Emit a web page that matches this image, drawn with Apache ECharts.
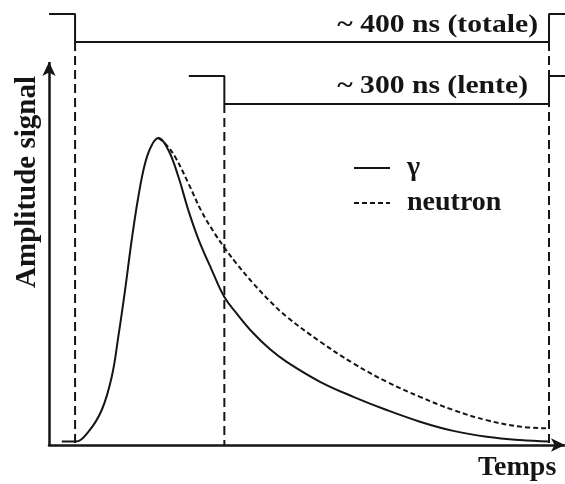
<!DOCTYPE html>
<html>
<head>
<meta charset="utf-8">
<script src="https://cdn.jsdelivr.net/npm/echarts@6/dist/echarts.min.js"></script>
<style>
html,body{margin:0;padding:0;background:#fff;}
#chart{width:565px;height:484px;}
</style>
</head>
<body>
<div id="chart"></div>
<script>
// Time axis in ns (gate start = 0), amplitude normalised to peak = 1
var timeRange = [-22, 413.5];
var ampRange = [0, 1.45];
var yArrowTop = 1.248;

// gamma pulse (solid)
var gammaT = [-11.2, 0, 11.2, 22.5, 31.0, 36.5, 42.2, 47.8, 53.4, 59.1, 64.7, 70.3, 78.7, 87.2, 95.6, 104.0, 115.4, 126.0, 136.5, 150.5, 164.6, 178.6, 206.8, 234.9, 263.0, 291.1, 319.2, 347.4, 375.5, 400];
var gammaA = [0.011, 0.011, 0.043, 0.114, 0.223, 0.353, 0.505, 0.668, 0.809, 0.918, 0.977, 1.0, 0.961, 0.874, 0.765, 0.672, 0.570, 0.482, 0.428, 0.364, 0.312, 0.271, 0.206, 0.157, 0.114, 0.076, 0.046, 0.027, 0.016, 0.011];

// neutron pulse (dashed), starts at the common peak
var neutronT = [70.3, 75.9, 84.4, 95.6, 106.9, 118.1, 126.6, 136.5, 150.5, 164.6, 178.6, 206.8, 234.9, 263.0, 291.1, 319.2, 347.4, 375.5, 400];
var neutronA = [1.0, 0.983, 0.939, 0.853, 0.760, 0.688, 0.640, 0.590, 0.526, 0.468, 0.418, 0.337, 0.266, 0.206, 0.157, 0.114, 0.081, 0.060, 0.054];

// integration gates
var totalGateT = [-22, 0, 0, 400, 400, 413.5];
var totalGateA = [1.404, 1.404, 1.313, 1.313, 1.404, 1.404];
var slowGateT = [96, 126, 126, 400, 400, 413.5];
var slowGateA = [1.202, 1.202, 1.111, 1.111, 1.202, 1.202];
var gateStarts = [0, 126, 400];
var gateTops = [1.313, 1.111, 1.313];

var labels = {
  total: '~ 400 ns (totale)',
  slow: '~ 300 ns (lente)',
  xName: 'Temps',
  yName: 'Amplitude signal',
  gamma: '\u03b3',
  neutron: 'neutron'
};

function pairs(xs, ys) { return xs.map(function (x, i) { return [x, ys[i]]; }); }

var FONT = 'Liberation Serif';
var INK = '#151515';

var series = [];
series.push({
  name: labels.gamma, type: 'line', data: pairs(gammaT, gammaA), smooth: 0.4,
  symbol: 'none', lineStyle: { color: INK, width: 2, type: 'solid' }, itemStyle: { color: INK }, z: 5,
  markLine: {
    silent: true, symbol: ['none', 'arrow'], symbolSize: [10, 14], label: { show: false },
    lineStyle: { color: INK, width: 2.5, type: 'solid' },
    data: [[{ coord: [timeRange[0], 0] }, { coord: [timeRange[0], yArrowTop] }]]
  }
});
series.push({
  name: labels.neutron, type: 'line', data: pairs(neutronT, neutronA), smooth: 0.4,
  symbol: 'none', lineStyle: { color: INK, width: 2, type: [5, 3] }, itemStyle: { color: INK }, z: 5
});
series.push({
  type: 'line', data: pairs(totalGateT, totalGateA), symbol: 'none',
  lineStyle: { color: INK, width: 2 }, z: 3
});
series.push({
  type: 'line', data: pairs(slowGateT, slowGateA), symbol: 'none',
  lineStyle: { color: INK, width: 2 }, z: 3
});
gateStarts.forEach(function (t, i) {
  series.push({
    type: 'line', data: [[t, gateTops[i]], [t, 0]], symbol: 'none',
    lineStyle: { color: INK, width: 2, type: [9, 5] }, z: 2
  });
});

var chart = echarts.init(document.getElementById('chart'), null, { renderer: 'canvas' });
chart.setOption({
  animation: false,
  backgroundColor: '#fff',
  grid: { left: 49, right: 0, top: 0, bottom: 39, containLabel: false },
  xAxis: {
    type: 'value', min: timeRange[0], max: timeRange[1],
    axisLine: { show: true, onZero: false, symbol: ['none', 'arrow'], symbolSize: [10, 14], lineStyle: { color: INK, width: 2.5 } },
    axisTick: { show: false }, axisLabel: { show: false }, splitLine: { show: false }
  },
  yAxis: {
    type: 'value', min: ampRange[0], max: ampRange[1],
    axisLine: { show: false }, axisTick: { show: false }, axisLabel: { show: false }, splitLine: { show: false }
  },
  legend: {
    data: [labels.gamma, labels.neutron],
    orient: 'vertical', left: 353, top: 154, padding: 0,
    itemWidth: 36, itemHeight: 14, itemGap: 7,
    itemStyle: { color: 'transparent', borderColor: 'transparent', borderWidth: 0, opacity: 0 },
    textStyle: { fontFamily: FONT, fontWeight: 'bold', fontSize: 28, lineHeight: 28, color: INK, padding: [0, 0, 0, 12] },
    selectedMode: false
  },
  graphic: [
    { type: 'text', x: 538, y: 25, scaleX: 1.14, silent: true,
      style: { text: labels.total, align: 'right', verticalAlign: 'middle', fontFamily: FONT, fontWeight: 'bold', fontSize: 26, fill: INK } },
    { type: 'text', x: 528, y: 86, scaleX: 1.14, silent: true,
      style: { text: labels.slow, align: 'right', verticalAlign: 'middle', fontFamily: FONT, fontWeight: 'bold', fontSize: 26, fill: INK } },
    { type: 'text', x: 478, y: 468, silent: true,
      style: { text: labels.xName, align: 'left', verticalAlign: 'middle', fontFamily: FONT, fontWeight: 'bold', fontSize: 28, fill: INK } },
    { type: 'text', x: 28, y: 182, rotation: Math.PI / 2, silent: true,
      style: { text: labels.yName, align: 'center', verticalAlign: 'middle', fontFamily: FONT, fontWeight: 'bold', fontSize: 29, fill: INK } }
  ],
  series: series
});
</script>
</body>
</html>
